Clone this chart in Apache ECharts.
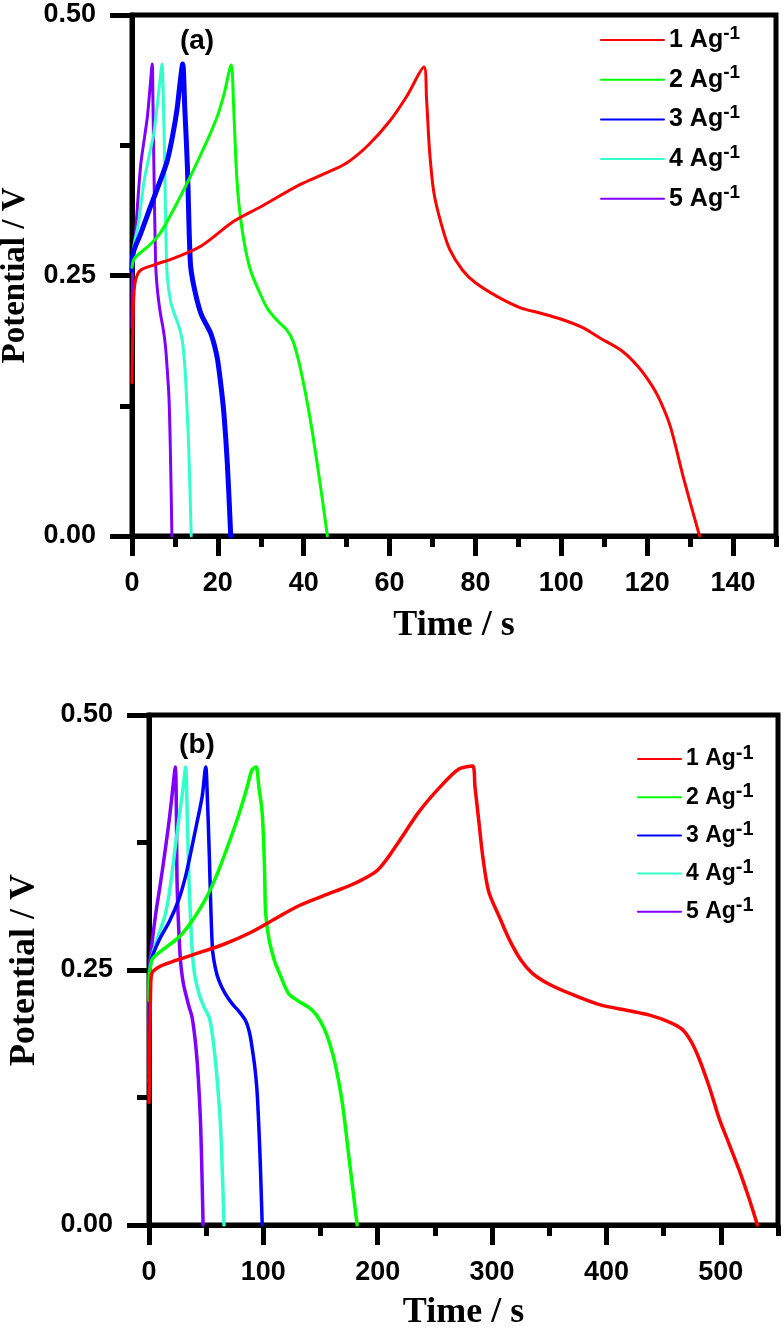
<!DOCTYPE html>
<html>
<head>
<meta charset="utf-8">
<script src="https://cdn.jsdelivr.net/npm/echarts@6/dist/echarts.min.js"></script>
<style>
html,body{margin:0;padding:0;background:#fff;}
#chart{width:784px;height:1335px;}
</style>
</head>
<body>
<div id="chart"></div>
<script>
// ---------- DATA ----------
const seriesNames = ['1 Ag-1', '2 Ag-1', '3 Ag-1', '4 Ag-1', '5 Ag-1'];
const seriesColors = ['#FF0000', '#00FF00', '#0000FF', '#33FFCC', '#7F00FF'];

// Panel (a): [time (s), potential (V)]
const a1 = [[0,0.147],[0.2,0.2],[0.5,0.235],[1,0.248],[2,0.255],[5,0.26],[10,0.267],[16,0.278],[23.7,0.302],[30,0.316],[39,0.337],[45,0.348],[50,0.358],[55,0.375],[60,0.398],[64,0.422],[68,0.45],[68.6,0.42],[69.3,0.37],[70.3,0.33],[72,0.3],[74,0.275],[77,0.255],[80,0.243],[85,0.23],[90.5,0.219],[95,0.214],[100,0.208],[105,0.2],[109,0.19],[114,0.178],[118,0.162],[121,0.145],[123,0.13],[125.4,0.105],[128.5,0.055],[132.2,0]];
const a2 = [[0,0.258],[0.5,0.266],[2,0.272],[4.3,0.28],[6.6,0.291],[9,0.308],[11.3,0.326],[13.6,0.345],[15.9,0.365],[18,0.384],[19.9,0.403],[21.5,0.425],[23.1,0.452],[23.6,0.42],[24.2,0.36],[24.8,0.323],[26,0.285],[27.6,0.255],[29.9,0.232],[31.6,0.218],[34,0.206],[36,0.198],[37.5,0.187],[39,0.165],[40.5,0.135],[42,0.1],[44,0.045],[45.5,0]];
const a3 = [[0,0.255],[0.3,0.272],[2,0.29],[4.3,0.316],[6.5,0.34],[8.2,0.36],[9.5,0.385],[10.5,0.41],[11.2,0.435],[11.8,0.453],[12.3,0.41],[12.9,0.355],[13.6,0.262],[14.4,0.24],[16,0.214],[17.3,0.203],[18.3,0.195],[19.2,0.183],[19.9,0.17],[20.7,0.145],[21.4,0.118],[22.2,0.07],[23,0]];
const a4 = [[0,0.255],[0.3,0.275],[1.5,0.3],[2.8,0.34],[4,0.365],[5.1,0.387],[6.3,0.429],[7,0.453],[7.3,0.42],[7.6,0.36],[7.9,0.29],[8.2,0.25],[9,0.225],[9.8,0.214],[11,0.2],[11.7,0.188],[12.2,0.168],[12.5,0.15],[12.9,0.115],[13.2,0.086],[13.8,0]];
const a5 = [[0,0.2],[0.2,0.26],[0.8,0.29],[2,0.355],[3,0.385],[3.6,0.403],[4.2,0.43],[4.7,0.453],[4.9,0.41],[5.1,0.355],[5.5,0.262],[5.9,0.237],[6.6,0.214],[7.3,0.198],[7.8,0.182],[8.2,0.16],[8.6,0.134],[8.9,0.09],[9.3,0]];

// Panel (b)
const b1 = [[0,0.12],[0.5,0.16],[1.5,0.235],[2.6,0.247],[8.7,0.253],[20,0.258],[44,0.267],[65,0.275],[87.5,0.286],[110,0.3],[131,0.313],[160,0.326],[180,0.335],[200,0.348],[218,0.375],[236,0.405],[255,0.43],[271,0.447],[283,0.45],[285,0.43],[288,0.4],[292,0.36],[297,0.327],[306,0.303],[315,0.28],[325,0.26],[335,0.247],[350,0.236],[370,0.226],[394,0.216],[420,0.21],[437,0.206],[455,0.199],[466,0.192],[474,0.18],[481,0.163],[490,0.135],[499,0.103],[506,0.083],[516,0.054],[525,0.025],[532,0]];
const b2 = [[0,0.22],[0.5,0.245],[2.6,0.26],[10,0.268],[26,0.282],[35,0.294],[44,0.309],[52,0.325],[61,0.348],[70,0.375],[79,0.404],[86,0.43],[90,0.446],[93.6,0.449],[96,0.43],[99,0.404],[101,0.35],[102,0.306],[105,0.28],[110,0.258],[114,0.247],[122,0.227],[130,0.22],[140,0.213],[147,0.205],[153,0.193],[158,0.178],[163,0.157],[169,0.12],[175,0.065],[182,0]];
const b3 = [[0,0.15],[0.3,0.24],[2,0.26],[8.7,0.279],[18,0.298],[26,0.319],[32,0.342],[37.6,0.371],[42,0.395],[46.5,0.42],[49.6,0.449],[51,0.42],[52.5,0.371],[55.4,0.272],[58,0.252],[61,0.24],[66,0.228],[72.6,0.217],[79,0.209],[84.6,0.2],[88,0.188],[90,0.175],[92.5,0.155],[94.6,0.129],[97,0.07],[99,0]];
const b4 = [[0,0.15],[0.3,0.245],[3,0.265],[8,0.283],[14.6,0.306],[19,0.335],[23,0.371],[27,0.405],[30,0.43],[32,0.449],[33.5,0.4],[35,0.338],[37.6,0.272],[40,0.245],[43.7,0.227],[48,0.214],[52.5,0.204],[55,0.19],[58,0.162],[60.5,0.13],[62.6,0.096],[64.5,0.04],[65.6,0]];
const b5 = [[0,0.14],[0.3,0.25],[2,0.27],[6,0.306],[10,0.335],[14.6,0.371],[18,0.4],[21,0.43],[23,0.449],[24,0.4],[24.5,0.338],[26,0.29],[27.7,0.257],[30,0.237],[32,0.227],[35,0.214],[37.6,0.204],[40,0.185],[42,0.162],[43.8,0.13],[45.2,0.096],[46.3,0.05],[47.3,0]];

// Tick values
const xMajorA = [0,20,40,60,80,100,120,140];
const xMinorA = [10,30,50,70,90,110,130,150];
const xMajorB = [0,100,200,300,400,500];
const xMinorB = [50,150,250,350,450,550];

const panelLabels = ['(a)', '(b)'];
const xTitle = 'Time / s';
const yTitle = 'Potential / V';

// ---------- CHART ----------
const chart = echarts.init(document.getElementById('chart'), null, {renderer: 'canvas'});
const SANS = '"Liberation Sans", Arial, sans-serif';
const SERIF = '"Liberation Serif", "Times New Roman", serif';

const grids = [
  {left: 132, top: 15, width: 644, height: 521},
  {left: 149, top: 715, width: 629, height: 510}
];

function mainX(gi, max, interval, major, nameGap) {
  return {
    type: 'value', gridIndex: gi, position: 'bottom', min: 0, max: max, interval: interval,
    name: xTitle, nameLocation: 'middle', nameGap: nameGap,
    nameTextStyle: {fontFamily: SERIF, fontWeight: 'bold', fontSize: 36, color: '#000'},
    axisLine: {show: true, onZero: false, lineStyle: {color: '#000', width: 5}},
    axisTick: {show: true, inside: false, length: 20, customValues: major, lineStyle: {color: '#000', width: 5}},
    axisLabel: {show: true, customValues: major, margin: 34, fontFamily: SANS, fontWeight: 'bold', fontSize: 27, color: '#000'},
    splitLine: {show: false}, minorTick: {show: false}
  };
}
function minorX(gi, max, interval, minor) {
  return {
    type: 'value', gridIndex: gi, position: 'bottom', min: 0, max: max, interval: interval,
    axisLine: {show: false, onZero: false},
    axisTick: {show: true, inside: false, length: 11, customValues: minor, lineStyle: {color: '#000', width: 5}},
    axisLabel: {show: false}, splitLine: {show: false}
  };
}
function mainY(gi, nameGap, nameSize) {
  return {
    type: 'value', gridIndex: gi, min: 0, max: 0.5, interval: 0.25,
    name: yTitle, nameLocation: 'middle', nameGap: nameGap, nameRotate: 90,
    nameTextStyle: {fontFamily: SERIF, fontWeight: 'bold', fontSize: nameSize, color: '#000'},
    axisLine: {show: true, onZero: false, lineStyle: {color: '#000', width: 5}},
    axisTick: {show: true, inside: false, length: 22, lineStyle: {color: '#000', width: 5}},
    minorTick: {show: true, splitNumber: 2, length: 12, lineStyle: {color: '#000', width: 5}},
    axisLabel: {margin: 36, fontFamily: SANS, fontWeight: 'bold', fontSize: 27, color: '#000',
      formatter: v => v.toFixed(2)},
    splitLine: {show: false}, minorSplitLine: {show: false}
  };
}

const dataA = [a1, a2, a3, a4, a5];
const dataB = [b1, b2, b3, b4, b5];
const widthsA = [3, 3, 5, 3, 3];
const widthsB = [3.5, 3.5, 3.5, 3.5, 3.5];

const series = [];
dataA.forEach((d, i) => series.push({
  name: seriesNames[i] + ' (a)', type: 'line', xAxisIndex: 0, yAxisIndex: 0, data: d,
  showSymbol: false, symbol: 'none', smooth: 0.3, z: 10 - i,
  lineStyle: {color: seriesColors[i], width: widthsA[i], cap: 'round', join: 'round'},
  itemStyle: {color: seriesColors[i]}
}));
dataB.forEach((d, i) => series.push({
  name: seriesNames[i] + ' (b)', type: 'line', xAxisIndex: 2, yAxisIndex: 1, data: d,
  showSymbol: false, symbol: 'none', smooth: 0.3, z: 10 - i,
  lineStyle: {color: seriesColors[i], width: widthsB[i], cap: 'round', join: 'round'},
  itemStyle: {color: seriesColors[i]}
}));

function legendFormatter(name) {
  const base = name.replace(/ \([ab]\)$/, '');
  const m = base.match(/^(.*)-1$/);
  return '{n|' + m[1] + '}{s|-1}';
}
function legend(left, top, itemWidth, names, fs, sfs, gap) {
  return {
    show: true, orient: 'vertical', left: left, top: top, padding: 0,
    itemWidth: itemWidth, itemHeight: 3, itemGap: gap,
    itemStyle: {opacity: 0},
    data: names, formatter: legendFormatter, selectedMode: false,
    textStyle: {
      color: '#000', fontFamily: SANS, fontWeight: 'bold',
      rich: {
        n: {fontSize: fs, fontFamily: SANS, fontWeight: 'bold', color: '#000', lineHeight: 32},
        s: {fontSize: sfs, fontFamily: SANS, fontWeight: 'bold', color: '#000', lineHeight: 14, verticalAlign: 'top'}
      }
    }
  };
}

const option = {
  animation: false,
  backgroundColor: '#fff',
  grid: grids.map(g => Object.assign({show: true, borderColor: '#000', borderWidth: 5, backgroundColor: 'transparent', containLabel: false, outerBoundsMode: 'none'}, g)),
  xAxis: [
    mainX(0, 150, 20, xMajorA, 72),
    minorX(0, 150, 20, xMinorA),
    mainX(1, 550, 100, xMajorB, 70),
    minorX(1, 550, 100, xMinorB)
  ],
  yAxis: [mainY(0, 100, 33), mainY(1, 106, 36)],
  legend: [
    legend(600, 24, 63, seriesNames.map(n => n + ' (a)'), 25, 19, 11.2),
    legend(637, 743, 43, seriesNames.map(n => n + ' (b)'), 23, 20, 10.7)
  ],
  graphic: [
    {type: 'text', x: 197, y: 41, z: 100, style: {text: panelLabels[0], align: 'center', verticalAlign: 'middle', fontFamily: SANS, fontWeight: 'bold', fontSize: 28, fill: '#000'}},
    {type: 'text', x: 197, y: 745, z: 100, style: {text: panelLabels[1], align: 'center', verticalAlign: 'middle', fontFamily: SANS, fontWeight: 'bold', fontSize: 28, fill: '#000'}}
  ],
  series: series
};
chart.setOption(option);
</script>
</body>
</html>
